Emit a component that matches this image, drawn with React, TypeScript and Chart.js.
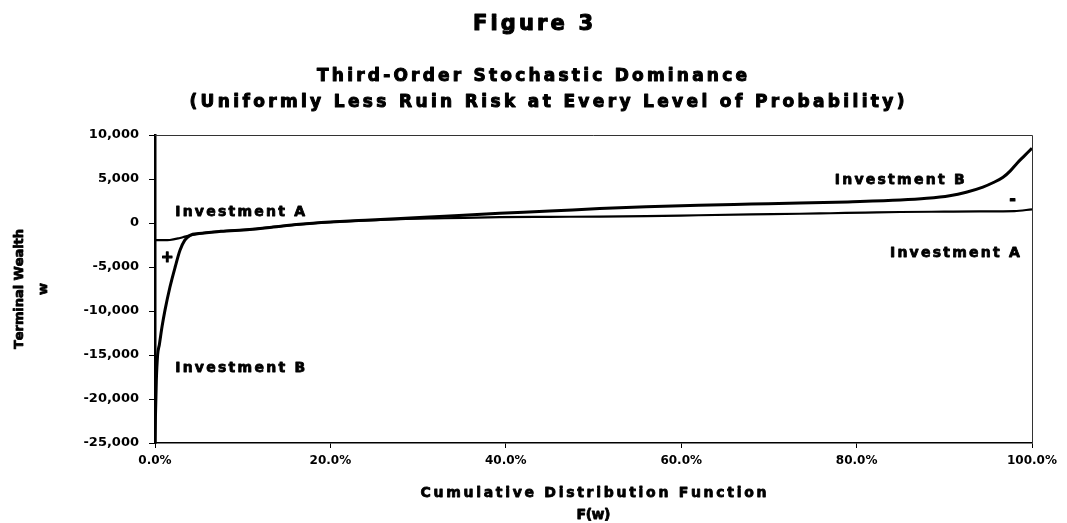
import React, { useEffect, useRef } from "react";
import { Chart, registerables } from "chart.js";

Chart.register(...registerables);

// ---- Data ----
const probA = [0, 1, 1.7, 2.85, 3.4, 4.0, 5, 7.5, 10.8, 13.5, 16.5, 20, 24, 28, 33, 39.3, 45, 50.7, 56, 62, 68, 73.5, 77, 81, 85, 90, 94, 98, 100];
const wealthA = [-1950, -1950, -1930, -1700, -1550, -1400, -1200, -950, -730, -450, -150, 100, 300, 450, 540, 660, 700, 730, 790, 880, 970, 1050, 1110, 1180, 1250, 1290, 1320, 1360, 1550];

const probB = [0, 0.05, 0.15, 0.3, 0.5, 0.8, 1.14, 1.7, 2.3, 2.85, 3.4, 4.0, 5, 7.5, 10.8, 13.5, 16.5, 20, 24, 28, 33, 39.3, 45, 50.7, 56, 62, 68, 73.5, 79, 85, 88, 90.6, 92.5, 94.4, 95.6, 96.7, 97.5, 98.3, 99.1, 99.8, 100];
const wealthB = [-25000, -22000, -18000, -15000, -13800, -11800, -9900, -7300, -5000, -3100, -1950, -1400, -1200, -950, -730, -450, -150, 100, 320, 520, 780, 1100, 1350, 1650, 1850, 2030, 2150, 2260, 2400, 2600, 2800, 3100, 3500, 4080, 4600, 5200, 5900, 6800, 7600, 8300, 8500];

const xTicks = [0, 20, 40, 60, 80, 100];
const yTicks = [-25000, -20000, -15000, -10000, -5000, 0, 5000, 10000];

const titleText = "Figure 3";
const subtitleLines = ["Third-Order Stochastic Dominance", "(Uniformly Less Ruin Risk at Every Level of Probability)"];
const xTitleLines = ["Cumulative Distribution Function", "F(w)"];
const yTitleLines = ["Terminal Wealth", "w"];

// in-plot labels: [text, x (%), y (wealth), align]
const plotLabels: [string, number, number, string][] = [
  ["Investment A", 2.3, 1240, "left"],
  ["Investment B", 2.3, -16490, "left"],
  ["Investment B", 77.5, 4880, "left"],
  ["Investment A", 83.8, -3420, "left"],
  ["+", 1.4, -4000, "center"],
  ["-", 97.8, 2600, "center"],
];

const FONT = "'DejaVu Sans', 'Liberation Sans', sans-serif";

function drawSpaced(ctx: CanvasRenderingContext2D, text: string, x: number, y: number, size: number, width: number | null, align: string, heavy = 0.8) {
  ctx.font = `bold ${size}px ${FONT}`;
  ctx.textBaseline = "middle";
  ctx.textAlign = "left";
  ctx.lineWidth = heavy;
  ctx.lineJoin = "round";
  ctx.strokeStyle = "#000";
  const chars = Array.from(text);
  const widths = chars.map((c) => ctx.measureText(c).width);
  const natural = widths.reduce((a, b) => a + b, 0);
  const gap = width && chars.length > 1 ? (width - natural) / (chars.length - 1) : 0;
  const total = natural + gap * (chars.length - 1);
  let cx = align === "center" ? x - total / 2 : align === "right" ? x - total : x;
  chars.forEach((c, i) => {
    ctx.fillText(c, cx, y);
    if (heavy > 0) ctx.strokeText(c, cx, y);
    cx += widths[i] + gap;
  });
}

const textPlugin = {
  id: "textPlugin",
  afterDraw(chart: any) {
    const ctx: CanvasRenderingContext2D = chart.ctx;
    const area = chart.chartArea;
    const xs = chart.scales.x;
    const ys = chart.scales.y;
    ctx.save();
    ctx.fillStyle = "#000";
    // frame (top and right thin)
    ctx.strokeStyle = "#333";
    ctx.lineWidth = 1;
    ctx.beginPath();
    ctx.moveTo(area.left, area.top + 0.5);
    ctx.lineTo(area.right + 0.5, area.top + 0.5);
    ctx.lineTo(area.right + 0.5, area.bottom);
    ctx.stroke();

    // titles
    drawSpaced(ctx, titleText, 533, 25, 21, 120, "center", 1.1);
    drawSpaced(ctx, subtitleLines[0], 532, 77, 17, 430, "center", 1);
    drawSpaced(ctx, subtitleLines[1], 547, 103, 17, 715, "center", 1);

    // x axis title
    const cxm = (area.left + area.right) / 2;
    drawSpaced(ctx, xTitleLines[0], cxm, 493, 14, 346, "center");
    drawSpaced(ctx, xTitleLines[1], cxm, 515, 14, 34, "center");

    // y axis title
    const cym = (area.top + area.bottom) / 2;
    ctx.save();
    ctx.translate(20, cym);
    ctx.rotate(-Math.PI / 2);
    drawSpaced(ctx, yTitleLines[0], 0, 0, 13, 120, "center");
    ctx.restore();
    ctx.save();
    ctx.translate(44, cym);
    ctx.rotate(-Math.PI / 2);
    drawSpaced(ctx, yTitleLines[1], 0, 0, 13, null, "center");
    ctx.restore();

    // labels inside plot
    plotLabels.forEach(([t, px, v, al]) => {
      const X = xs.getPixelForValue(px);
      const Y = ys.getPixelForValue(v);
      if (t.length > 1) drawSpaced(ctx, t, X, Y, 14, 130, al);
      else drawSpaced(ctx, t, X, Y, 15, null, al, 1.2);
    });
    ctx.restore();
  },
};

export default function App() {
  const ref = useRef<HTMLCanvasElement>(null);
  useEffect(() => {
    document.body.style.margin = "0";
    const canvas = ref.current!;
    const chart = new Chart(canvas, {
      type: "line",
      data: {
        datasets: [
          {
            label: "Investment A",
            data: probA.map((p, i) => ({ x: p, y: wealthA[i] })),
            borderColor: "#000",
            borderWidth: 2.2,
            pointRadius: 0,
            cubicInterpolationMode: "monotone",
            fill: false,
          },
          {
            label: "Investment B",
            data: probB.map((p, i) => ({ x: p, y: wealthB[i] })),
            borderColor: "#000",
            borderWidth: 3,
            pointRadius: 0,
            cubicInterpolationMode: "monotone",
            fill: false,
          },
        ],
      },
      options: {
        animation: false,
        responsive: false,
        maintainAspectRatio: false,
        layout: { padding: { top: 135, left: 0, right: 35, bottom: 0 } },
        plugins: {
          legend: { display: false },
          title: { display: false },
          tooltip: { enabled: false },
        },
        scales: {
          x: {
            type: "linear",
            min: 0,
            max: 100,
            afterFit: (s: any) => {
              s.height = 80;
            },
            afterBuildTicks: (s: any) => {
              s.ticks = xTicks.map((v) => ({ value: v }));
            },
            ticks: {
              callback: (v: any) => Number(v).toFixed(1) + "%",
              color: "#000",
              font: { family: FONT, size: 12, weight: "bold" },
              padding: 6,
              maxRotation: 0,
            },
            grid: { display: true, drawOnChartArea: false, tickLength: 5, color: "#000", lineWidth: 1 },
            border: { display: true, color: "#000", width: 1.5 },
          },
          y: {
            type: "linear",
            min: -25000,
            max: 10000,
            afterFit: (s: any) => {
              s.width = 155;
            },
            afterBuildTicks: (s: any) => {
              s.ticks = yTicks.map((v) => ({ value: v }));
            },
            ticks: {
              callback: (v: any) => Number(v).toLocaleString("en-US"),
              color: "#000",
              font: { family: FONT, size: 13, weight: "bold" },
              padding: 10,
            },
            grid: { display: true, drawOnChartArea: false, tickLength: 6, color: "#000", lineWidth: 1 },
            border: { display: true, color: "#000", width: 2.5 },
          },
        },
      },
      plugins: [textPlugin],
    } as any);
    return () => chart.destroy();
  }, []);
  return (
    <div style={{ width: 1067, height: 523, background: "#fff" }}>
      <canvas ref={ref} width={1067} height={523} style={{ display: "block" }} />
    </div>
  );
}
